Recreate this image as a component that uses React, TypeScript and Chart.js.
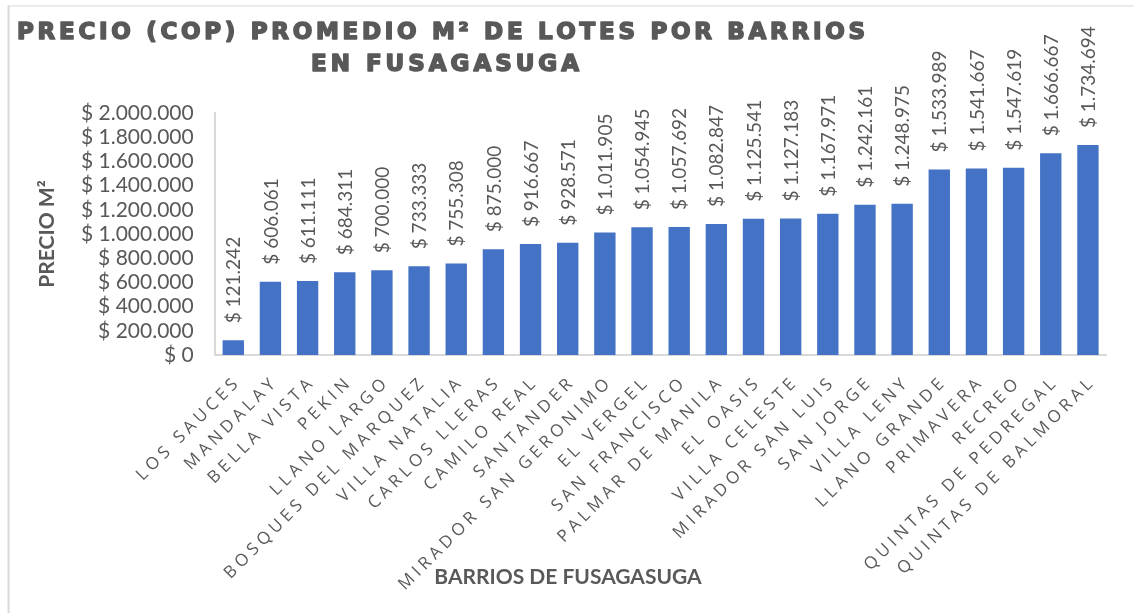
import React, { useEffect, useRef } from "react";
import { Chart, registerables } from "chart.js";

Chart.register(...registerables);

const categories = [
  "LOS SAUCES",
  "MANDALAY",
  "BELLA VISTA",
  "PEKIN",
  "LLANO LARGO",
  "BOSQUES DEL MARQUEZ",
  "VILLA NATALIA",
  "CARLOS LLERAS",
  "CAMILO REAL",
  "SANTANDER",
  "MIRADOR SAN GERONIMO",
  "EL VERGEL",
  "SAN FRANCISCO",
  "PALMAR DE MANILA",
  "EL OASIS",
  "VILLA CELESTE",
  "MIRADOR SAN LUIS",
  "SAN JORGE",
  "VILLA LENY",
  "LLANO GRANDE",
  "PRIMAVERA",
  "RECREO",
  "QUINTAS DE PEDREGAL",
  "QUINTAS DE BALMORAL",
];

const prices = [
  121242, 606061, 611111, 684311, 700000, 733333, 755308, 875000, 916667,
  928571, 1011905, 1054945, 1057692, 1082847, 1125541, 1127183, 1167971,
  1242161, 1248975, 1533989, 1541667, 1547619, 1666667, 1734694,
];

const titleLines = ["PRECIO (COP) PROMEDIO M² DE LOTES POR BARRIOS", "EN FUSAGASUGA"];
const yAxisTitle = "PRECIO M²";
const xAxisTitle = "BARRIOS DE FUSAGASUGA";
const yMin = 0;
const yMax = 2000000;
const yStep = 200000;

const fmt = (v: number) =>
  "$ " + Math.round(v).toString().replace(/\B(?=(\d{3})+(?!\d))/g, ".");

const GRAY = "#595959";

// draw text glyph by glyph so it spans from left to right (heavy look)
function drawSpaced(ctx: any, text: string, left: number, right: number, baseline: number) {
  const chars = Array.from(text);
  const widths = chars.map((ch) => ctx.measureText(ch).width);
  const total = widths.reduce((a, b) => a + b, 0);
  const ls = (right - left - total) / (chars.length - 1);
  ctx.textAlign = "left";
  ctx.textBaseline = "alphabetic";
  ctx.lineWidth = 1.6;
  ctx.lineJoin = "round";
  ctx.strokeStyle = GRAY;
  let x = left;
  chars.forEach((ch, i) => {
    ctx.fillText(ch, x, baseline);
    ctx.strokeText(ch, x, baseline);
    x += widths[i] + ls;
  });
}

// draw text glyph by glyph ending at x=0 with a fixed spacing
function drawSpacedRight(ctx: any, text: string, ls: number) {
  const chars = Array.from(text);
  const widths = chars.map((ch) => ctx.measureText(ch).width);
  const total = widths.reduce((a, b) => a + b, 0) + ls * (chars.length - 1);
  ctx.textAlign = "left";
  ctx.textBaseline = "middle";
  let x = -total;
  chars.forEach((ch, i) => {
    ctx.fillText(ch, x, 0);
    x += widths[i] + ls;
  });
}

const decorPlugin = {
  id: "decor",
  afterDraw(chart: any) {
    const ctx = chart.ctx;
    const xs = chart.scales.x;
    const ys = chart.scales.y;
    ctx.save();

    // frame lines
    ctx.fillStyle = "#d9d9d9";
    ctx.fillRect(8, 5.5, 1134, 1);
    ctx.fillRect(7.5, 5.5, 2, 613);

    // title
    ctx.fillStyle = GRAY;
    ctx.font = "bold 23px 'DejaVu Sans', 'Liberation Sans', sans-serif";
    drawSpaced(ctx, titleLines[0], 17, 865, 39);
    drawSpaced(ctx, titleLines[1], 311, 579, 71);

    // data labels
    const meta = chart.getDatasetMeta(0);
    ctx.font = "19px Lato";
    ctx.fillStyle = GRAY;
    meta.data.forEach((el: any, i: number) => {
      ctx.save();
      ctx.translate(el.x + 1, el.y - 17);
      ctx.rotate(-Math.PI / 2);
      ctx.textAlign = "left";
      ctx.textBaseline = "middle";
      ctx.fillText(fmt(prices[i]), 0, 0);
      ctx.restore();
    });

    // category labels
    ctx.font = "17px 'Open Sans'";
    ctx.fillStyle = GRAY;
    const ls = 4.2;
    categories.forEach((c, i) => {
      const cx = xs.getPixelForValue(i);
      ctx.save();
      ctx.translate(cx + 2, ys.bottom + 27);
      ctx.rotate(-Math.PI / 4);
      drawSpacedRight(ctx, c, ls);
      ctx.restore();
    });

    // axis titles
    ctx.font = "bold 21px Lato";
    ctx.fillStyle = GRAY;
    ctx.save();
    ctx.translate(47, (ys.top + ys.bottom) / 2);
    ctx.rotate(-Math.PI / 2);
    ctx.textAlign = "center";
    ctx.textBaseline = "middle";
    ctx.fillText(yAxisTitle, 0, 0);
    ctx.restore();

    ctx.textAlign = "center";
    ctx.textBaseline = "middle";
    ctx.fillText(xAxisTitle, 568, 577);

    ctx.restore();
  },
};

export default function App() {
  const canvasRef = useRef<HTMLCanvasElement | null>(null);

  useEffect(() => {
    if (!canvasRef.current) return;
    const chart = new Chart(canvasRef.current, {
      type: "bar",
      data: {
        labels: categories,
        datasets: [
          {
            data: prices,
            backgroundColor: "#4472C4",
            borderWidth: 0,
            barPercentage: 0.575,
            categoryPercentage: 1,
          },
        ],
      },
      options: {
        responsive: false,
        animation: false,
        devicePixelRatio: 1,
        layout: { padding: { top: 113, right: 1134 - 1106.5, left: 0, bottom: 0 } },
        plugins: {
          legend: { display: false },
          title: { display: false },
          tooltip: { enabled: false },
        },
        scales: {
          x: {
            grid: { display: false },
            border: { color: "#d9d9d9", width: 2 },
            ticks: { display: false },
            afterFit: (s: any) => {
              s.height = 613 - 355;
            },
          },
          y: {
            min: yMin,
            max: yMax,
            grid: { display: false },
            border: { color: "#d9d9d9", width: 2 },
            ticks: {
              stepSize: yStep,
              autoSkip: false,
              padding: 13,
              color: GRAY,
              font: { family: "Lato", size: 21 },
              callback: (v: any) => fmt(Number(v)),
            },
            afterFit: (s: any) => {
              s.width = 214.7;
            },
          },
        },
      },
      plugins: [decorPlugin],
    });
    return () => chart.destroy();
  }, []);

  return (
    <div style={{ position: "fixed", left: 0, top: 0, width: 1134, height: 613, background: "#fff" }}>
      <canvas ref={canvasRef} width={1134} height={613} />
    </div>
  );
}
